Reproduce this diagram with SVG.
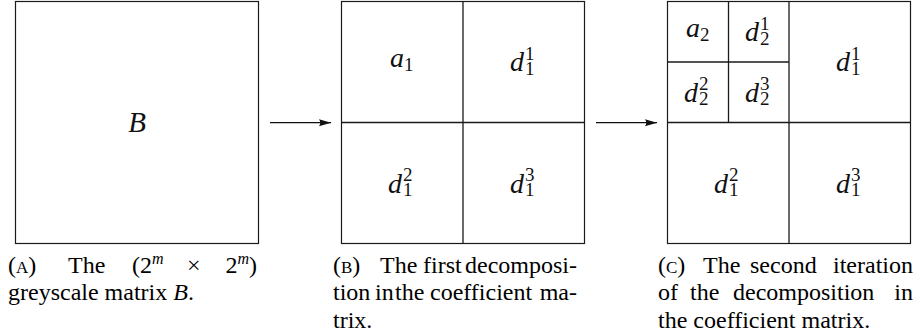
<svg xmlns="http://www.w3.org/2000/svg" width="915" height="333" viewBox="0 0 915 333">
<defs>
<marker id="ah" markerUnits="userSpaceOnUse" markerWidth="12" markerHeight="8" refX="12" refY="4" orient="auto">
<path d="M0,0.5 L12,4 L0,7.5 Q2.5,4 0,0.5 z" fill="#111"/>
</marker>
</defs>
<g id="matrixA">
<rect fill="#fff" stroke="#1a1a1a" stroke-width="1.2" x="15.5" y="1.5" width="243" height="242"/>
<text style="font-family:'Liberation Serif';font-style:italic" font-size="29" fill="#111" x="137" y="132" text-anchor="middle">B</text>
</g>
<g id="matrixB">
<rect fill="#fff" stroke="#1a1a1a" stroke-width="1.2" x="341.5" y="1.5" width="243" height="242"/>
<line stroke="#1a1a1a" stroke-width="1.3" x1="463" y1="1.5" x2="463" y2="243.5"/>
<line stroke="#1a1a1a" stroke-width="1.3" x1="341.5" y1="122.5" x2="584.5" y2="122.5"/>
<text style="font-family:'Liberation Serif';font-style:italic" font-size="28" fill="#111" x="390" y="67">a</text><text style="font-family:'Liberation Serif'" font-size="19" fill="#111" x="404" y="71">1</text>
<text style="font-family:'Liberation Serif';font-style:italic" font-size="28" fill="#111" x="510" y="71">d</text><text style="font-family:'Liberation Serif'" font-size="19" fill="#111" x="525" y="60">1</text><text style="font-family:'Liberation Serif'" font-size="19" fill="#111" x="525" y="75">1</text>
<text style="font-family:'Liberation Serif';font-style:italic" font-size="28" fill="#111" x="388" y="193">d</text><text style="font-family:'Liberation Serif'" font-size="19" fill="#111" x="403" y="181">2</text><text style="font-family:'Liberation Serif'" font-size="19" fill="#111" x="403" y="196">1</text>
<text style="font-family:'Liberation Serif';font-style:italic" font-size="28" fill="#111" x="510" y="193">d</text><text style="font-family:'Liberation Serif'" font-size="19" fill="#111" x="525" y="181">3</text><text style="font-family:'Liberation Serif'" font-size="19" fill="#111" x="525" y="196">1</text>
</g>
<g id="matrixC">
<rect fill="#fff" stroke="#1a1a1a" stroke-width="1.2" x="667.5" y="1.5" width="243" height="242"/>
<line stroke="#1a1a1a" stroke-width="1.3" x1="789" y1="1.5" x2="789" y2="243.5"/>
<line stroke="#1a1a1a" stroke-width="1.3" x1="667.5" y1="122.5" x2="910.5" y2="122.5"/>
<line stroke="#1a1a1a" stroke-width="1.3" x1="728.5" y1="1.5" x2="728.5" y2="122.5"/>
<line stroke="#1a1a1a" stroke-width="1.3" x1="667.5" y1="62" x2="789" y2="62"/>
<text style="font-family:'Liberation Serif';font-style:italic" font-size="28" fill="#111" x="686" y="37">a</text><text style="font-family:'Liberation Serif'" font-size="19" fill="#111" x="700" y="41">2</text>
<text style="font-family:'Liberation Serif';font-style:italic" font-size="28" fill="#111" x="745" y="41">d</text><text style="font-family:'Liberation Serif'" font-size="19" fill="#111" x="760" y="30">1</text><text style="font-family:'Liberation Serif'" font-size="19" fill="#111" x="760" y="45">2</text>
<text style="font-family:'Liberation Serif';font-style:italic" font-size="28" fill="#111" x="684" y="102">d</text><text style="font-family:'Liberation Serif'" font-size="19" fill="#111" x="699" y="90">2</text><text style="font-family:'Liberation Serif'" font-size="19" fill="#111" x="699" y="105">2</text>
<text style="font-family:'Liberation Serif';font-style:italic" font-size="28" fill="#111" x="745" y="102">d</text><text style="font-family:'Liberation Serif'" font-size="19" fill="#111" x="760" y="90">3</text><text style="font-family:'Liberation Serif'" font-size="19" fill="#111" x="760" y="105">2</text>
<text style="font-family:'Liberation Serif';font-style:italic" font-size="28" fill="#111" x="836" y="71">d</text><text style="font-family:'Liberation Serif'" font-size="19" fill="#111" x="851" y="60">1</text><text style="font-family:'Liberation Serif'" font-size="19" fill="#111" x="851" y="75">1</text>
<text style="font-family:'Liberation Serif';font-style:italic" font-size="28" fill="#111" x="714" y="193">d</text><text style="font-family:'Liberation Serif'" font-size="19" fill="#111" x="729" y="181">2</text><text style="font-family:'Liberation Serif'" font-size="19" fill="#111" x="729" y="196">1</text>
<text style="font-family:'Liberation Serif';font-style:italic" font-size="28" fill="#111" x="836" y="193">d</text><text style="font-family:'Liberation Serif'" font-size="19" fill="#111" x="851" y="181">3</text><text style="font-family:'Liberation Serif'" font-size="19" fill="#111" x="851" y="196">1</text>
</g>
<g id="connectors">
<line stroke="#111" stroke-width="1.2" x1="270" y1="122.7" x2="331" y2="122.7" marker-end="url(#ah)"/>
<line stroke="#111" stroke-width="1.2" x1="596" y1="122.7" x2="657" y2="122.7" marker-end="url(#ah)"/>
</g>
<text x="8" y="273" font-size="24" font-family="Liberation Serif">(<tspan font-size="17">A</tspan>)</text>
<text x="68" y="273" font-size="24" font-family="Liberation Serif">The</text>
<text x="132" y="273" font-size="24" font-family="Liberation Serif">(2<tspan font-size="16" font-style="italic" dy="-9">m</tspan></text>
<text x="187" y="273" font-size="24" font-family="Liberation Serif">×</text>
<text x="257" y="273" font-size="24" font-family="Liberation Serif" text-anchor="end">2<tspan font-size="16" font-style="italic" dy="-9">m</tspan><tspan dy="9">)</tspan></text>
<text x="8" y="300" font-size="24" font-family="Liberation Serif">greyscale matrix <tspan font-style="italic">B</tspan>.</text>
<text x="333" y="273" font-size="24" font-family="Liberation Serif">(<tspan font-size="17">B</tspan>)</text>
<text x="380" y="273" font-size="24" font-family="Liberation Serif">The</text>
<text x="423" y="273" font-size="24" font-family="Liberation Serif">first</text>
<text x="577" y="273" font-size="24" font-family="Liberation Serif" text-anchor="end">decomposi-</text>
<text x="333" y="300" font-size="24" font-family="Liberation Serif">tion</text>
<text x="375" y="300" font-size="24" font-family="Liberation Serif">in</text>
<text x="395" y="300" font-size="24" font-family="Liberation Serif">the</text>
<text x="430" y="300" font-size="24" font-family="Liberation Serif">coefficient</text>
<text x="577" y="300" font-size="24" font-family="Liberation Serif" text-anchor="end">ma-</text>
<text x="333" y="328" font-size="24" font-family="Liberation Serif">trix.</text>
<text x="658" y="273" font-size="24" font-family="Liberation Serif">(<tspan font-size="17">C</tspan>)</text>
<text x="703" y="273" font-size="24" font-family="Liberation Serif">The</text>
<text x="750" y="273" font-size="24" font-family="Liberation Serif">second</text>
<text x="913" y="273" font-size="24" font-family="Liberation Serif" text-anchor="end">iteration</text>
<text x="658" y="300" font-size="24" font-family="Liberation Serif">of</text>
<text x="690" y="300" font-size="24" font-family="Liberation Serif">the</text>
<text x="733" y="300" font-size="24" font-family="Liberation Serif">decomposition</text>
<text x="913" y="300" font-size="24" font-family="Liberation Serif" text-anchor="end">in</text>
<text x="658" y="328" font-size="24" font-family="Liberation Serif">the coefficient matrix.</text>
</svg>
